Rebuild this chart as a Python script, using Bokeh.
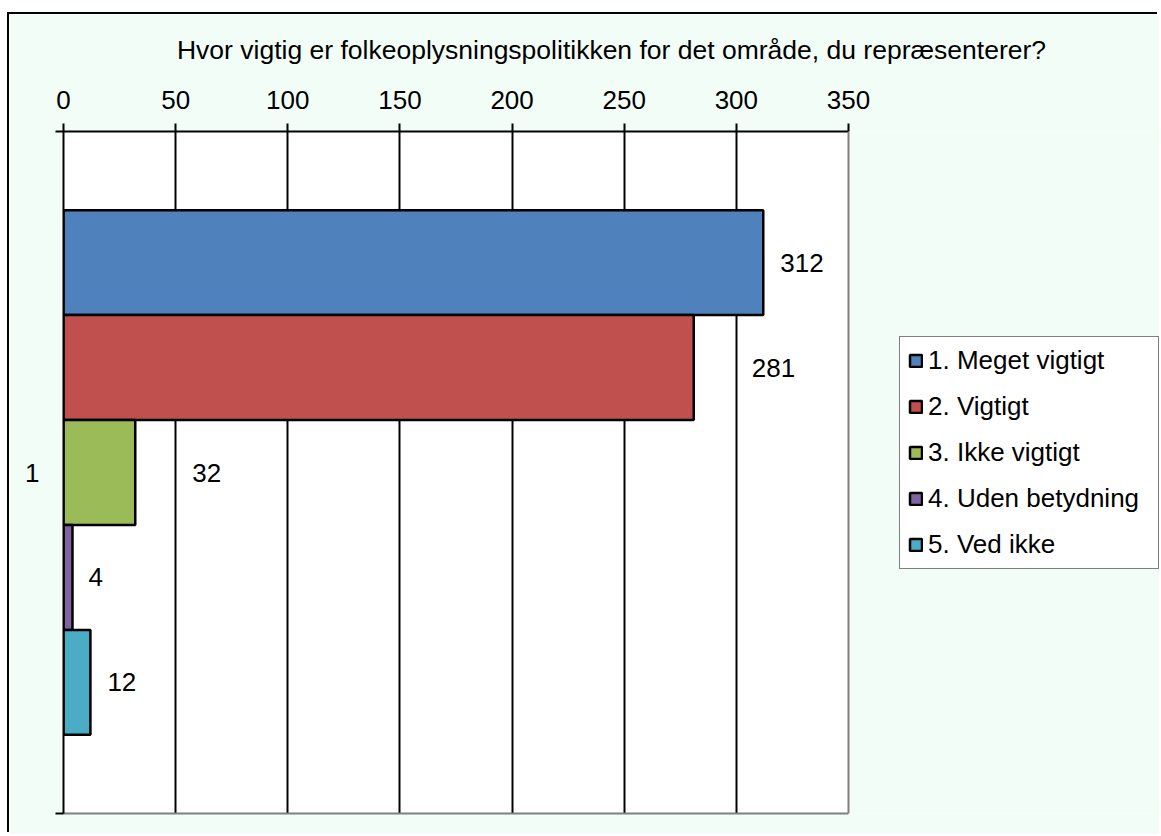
from bokeh.plotting import figure
from bokeh.models import ColumnDataSource, Range1d, FixedTicker, Span, Legend, LegendItem, LinearAxis
from bokeh.core.properties import value
from bokeh.embed import file_html
from bokeh.resources import INLINE

# ---- data ----
categories = ["1. Meget vigtigt", "2. Vigtigt", "3. Ikke vigtigt", "4. Uden betydning", "5. Ved ikke"]
values = [312, 281, 32, 4, 12]
colors = ["#4F81BD", "#C0504D", "#9BBB59", "#8064A2", "#4BACC6"]
x_ticks = [0, 50, 100, 150, 200, 250, 300, 350]
y_label = "1"
title = "Hvor vigtig er folkeoplysningspolitikken for det område, du repræsenterer?"

FONT = "Liberation Sans"
FS = "26px"
MINT = "#F3FDF7"

W, H = 1150, 820
LEFT, TOP, BOTTOM = 54, 117, 21
PLOT_PX = 785                      # pixel width of the 0..350 plot area
XMAX = 350
frame_px = W - LEFT
x_end = XMAX * frame_px / PLOT_PX  # frame extends to the right edge (legend lives there)
TITLE_CENTER_PX = 507              # title centre, px right of the value axis origin
title_center = TITLE_CENTER_PX * XMAX / PLOT_PX

n = len(values)
bar_h = 1.0 / (n + 1.5)  # Excel gap width 150%
ys = [0.5 + ((n - 1) / 2 - i) * bar_h for i in range(n)]
label_offsets = [17, 58, 57, 16, 17]

src = ColumnDataSource(dict(name=categories, value=values, color=colors, y=ys,
                            txt=[str(v) for v in values], off=label_offsets))

p = figure(width=W, height=H, output_backend="svg", toolbar_location=None, title=None,
           x_range=Range1d(0, x_end), y_range=Range1d(0, 1), x_axis_location="above",
           min_border_left=LEFT, min_border_right=0, min_border_top=TOP, min_border_bottom=BOTTOM)
p.styles = {"margin-left": "9px", "margin-top": "14px",
            "box-shadow": "-2px -2px 0px 0px black"}

p.border_fill_color = MINT
p.background_fill_color = MINT
p.outline_line_color = None

# white plot area
p.quad(left=0, right=XMAX, bottom=0, top=1, fill_color="white", line_color=None, level="image")

# x axis (top)
xa = p.xaxis[0]
xa.ticker = FixedTicker(ticks=x_ticks)
xa.bounds = (0, XMAX)
xa.major_label_text_font = FONT
xa.major_label_text_font_size = FS
xa.major_label_text_color = "black"
xa.major_tick_out = 8
xa.major_tick_in = 0
xa.minor_tick_line_color = None
xa.major_tick_line_color = "black"
xa.major_tick_line_width = 2
xa.axis_line_color = "black"
xa.axis_line_width = 2
xa.major_label_standoff = 15

# chart title, carried by an invisible axis above the value axis
ta = LinearAxis(ticker=FixedTicker(ticks=[]), bounds=(0, 2 * title_center),
                axis_line_color=None, major_tick_line_color=None, minor_tick_line_color=None,
                major_tick_out=0, minor_tick_out=0, major_label_text_font_size="0px",
                axis_label=title, axis_label_text_font=FONT, axis_label_text_font_size="26.5px",
                axis_label_text_font_style="normal", axis_label_text_color="black",
                axis_label_standoff=23)
p.add_layout(ta, "above")

# bottom grey border of the plot area
xb = LinearAxis(ticker=FixedTicker(ticks=[]), bounds=(0, XMAX), axis_line_color="#808080",
                axis_line_width=2, major_label_text_font_size="0px",
                major_tick_line_color=None, minor_tick_line_color=None)
p.add_layout(xb, "below")

# y axis
ya = p.yaxis[0]
ya.ticker = FixedTicker(ticks=[0.5], minor_ticks=[0, 1])
ya.major_label_overrides = {0.5: y_label}
ya.major_label_text_font = FONT
ya.major_label_text_font_size = FS
ya.major_label_text_color = "black"
ya.major_tick_line_color = None
ya.major_tick_out = 8
ya.major_tick_in = 0
ya.minor_tick_out = 8
ya.minor_tick_in = 0
ya.minor_tick_line_color = "black"
ya.minor_tick_line_width = 2
ya.axis_line_color = "black"
ya.axis_line_width = 2
ya.major_label_standoff = 16

p.xgrid.ticker = FixedTicker(ticks=x_ticks[:-1])
p.xgrid.grid_line_color = "black"
p.xgrid.grid_line_width = 2
p.ygrid.grid_line_color = None

p.add_layout(Span(location=XMAX, dimension="height", line_color="#808080", line_width=2))

r = p.hbar(y="y", left=0, right="value", height=bar_h, source=src, fill_color="color",
           line_color="black", line_width=2.5)

p.text(x="value", y="y", text="txt", x_offset="off", source=src, text_font=value(FONT),
       text_font_size=value(FS), text_baseline="middle", text_align="left", text_color="black")

items = [LegendItem(label=c, renderers=[r], index=i) for i, c in enumerate(categories)]
lg = Legend(items=items, location=(836, 244))
lg.label_text_font = FONT
lg.label_text_font_size = FS
lg.label_text_color = "black"
lg.glyph_width = 15
lg.glyph_height = 15
lg.label_height = 30
lg.label_width = 222
lg.label_standoff = 5
lg.spacing = 15
lg.padding = 8
lg.margin = 0
lg.border_line_color = "black"
lg.border_line_width = 1.5
lg.background_fill_color = "white"
lg.background_fill_alpha = 1
p.add_layout(lg, "center")

open("out.html", "w").write(file_html(p, INLINE))
